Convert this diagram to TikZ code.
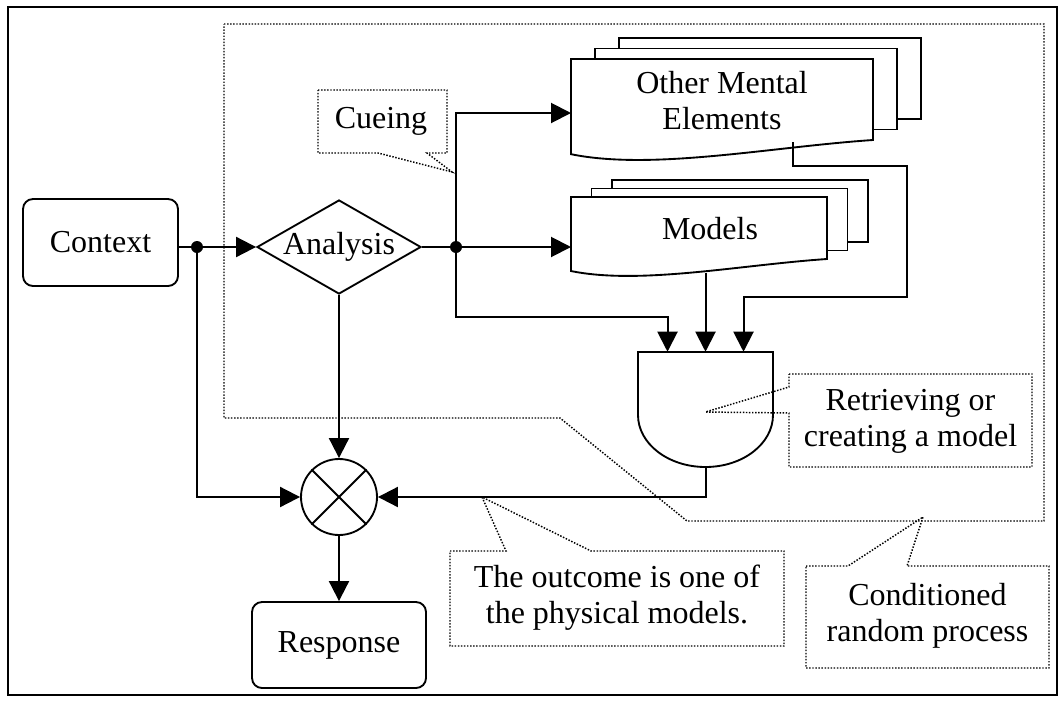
\documentclass[tikz,border=0pt]{standalone}
\usepackage{fontspec}
\setmainfont{Liberation Serif}
\usetikzlibrary{arrows.meta,shapes.geometric,calc}
\newcommand{\docstack}[6]{%
  % #1 x, #2 y (top-left of front), #3 width, #4 right height, #5 dx, #6 dy
  \draw[shapeline,fill=white] ({#1+2*#5},{#2-2*#6}) rectangle ({#1+2*#5+#3},{#2-2*#6+#4});
  \draw[shapeline,fill=white] ({#1+#5},{#2-#6}) rectangle ({#1+#5+#3},{#2-#6+#4});
  \draw[shapeline,fill=white] (#1,#2) -- ({#1+#3},#2) -- ({#1+#3},{#2+#4})
    .. controls ({#1+0.66*#3},{#2+#4+0.023*#3}) and ({#1+0.27*#3},{#2+#4+0.102*#3}) ..
    (#1,{#2+#4+0.047*#3}) -- cycle;
}
\begin{document}
\begin{tikzpicture}[x=0.75pt,y=-0.75pt,
  conn/.style={line width=1.5pt,-{Triangle[length=15pt,width=15pt]}},
  plain/.style={line width=1.5pt},
  shapeline/.style={line width=1.4pt},
  dotline/.style={line width=1.1pt,dash pattern=on 1.1pt off 1.2pt},
  txt/.style={font=\fontsize{24pt}{27pt}\selectfont,align=center,inner sep=0pt},
  rbox/.style={draw,line width=1.4pt,rounded corners=7.5pt,inner sep=0pt,
    font=\fontsize{24pt}{27pt}\selectfont},
  ]
\useasboundingbox (0,0) rectangle (1060,700);
\draw[line width=1.6pt] (8,7) rectangle (1057,695);

% conditioned random process region
\draw[dotline] (224,24) -- (1044,24) -- (1044,521) -- (687,521) -- (560,418) -- (224,418) -- cycle;

% document stacks
\docstack{571}{59}{302}{81}{24}{10.5}
\docstack{571}{197}{256}{62}{20.5}{8.5}
\node[txt] (ome) at (722,101) {Other Mental\\Elements};
\node[txt] (models) at (710,229) {Models};

% main nodes
\node[rbox, minimum width=116.25pt, minimum height=65.25pt] (context) at (100.5,242.5) {Context};
\node[draw, shape=diamond, shapeline, inner sep=0pt, minimum width=123pt, minimum height=70.5pt] (ana) at (339,247) {};
\node[txt] (anatxt) at (ana.center) {Analysis};
\node[draw, circle, shapeline, minimum size=57pt, inner sep=0pt] (mult) at (339,497) {};
\draw[shapeline] (mult.north west) -- (mult.south east) (mult.north east) -- (mult.south west);
\node[rbox, minimum width=130.5pt, minimum height=64.5pt] (resp) at (339,645) {Response};

% retrieving shape
\draw[shapeline, fill=white] (638,352) -- (773,352) -- (773,415)
  .. controls (773,443.7) and (742.8,467) .. (705.5,467)
  .. controls (668.2,467) and (638,443.7) .. (638,415) -- cycle;
\node[minimum width=101.25pt, minimum height=86.25pt, inner sep=0pt] (retr) at (705.5,409.5) {};

% coordinates
\coordinate (j1) at (197,247);
\coordinate (j2) at (456,247);
\coordinate (modin) at (571,247);
\coordinate (omein) at (571,113);
\coordinate (modout) at (705.5,273);
\coordinate (omeout) at (793,142);

% connectors
\draw[plain] (context.east |- j1) -- (j1);
\draw[conn] (j1) -- (ana.west);
\draw[conn] (j1) |- (mult.west);
\draw[plain] (ana.east) -- (j2);
\draw[conn] (j2) -- (modin);
\draw[conn] (j2) |- (omein);
\draw[conn] (j2) -- ++(0,70) -| ([xshift=-28.5pt]retr.north);
\draw[conn] (modout) -- (retr.north);
\draw[conn] (omeout) -- ++(0,24) -- ++(114,0) -- ++(0,131) -| ([xshift=28.5pt]retr.north);
\draw[conn] (ana.south) -- (mult.north);
\draw[conn] (retr.south) |- (mult.east);
\draw[conn] (mult.south) -- (resp.north);
\fill (j1) circle[radius=4.5pt];
\fill (j2) circle[radius=4.5pt];

% callouts
\coordinate (cuetip) at (452,172);
\coordinate (retrtip) at (705.5,412);
\coordinate (outtip) at (482,497);
\coordinate (condtip) at (923,517);
\draw[dotline] (318,90) -- (447,90) -- (447,153) -- (427,153) -- (cuetip) -- (378,153) -- (318,153) -- cycle;
\draw[dotline] (789,374) -- (1032,374) -- (1032,467) -- (789,467) -- (789,413) -- (retrtip) -- (789,387) -- cycle;
\draw[dotline] (450,551) -- (506,551) -- (outtip) -- (591,551) -- (784,551) -- (784,646) -- (450,646) -- cycle;
\draw[dotline] (806,566) -- (848,566) -- (condtip) -- (907,566) -- (1049,566) -- (1049,668) -- (806,668) -- cycle;
\node[txt] (cue) at (381,121) {Cueing};
\node[txt] (retrtxt) at (910.5,421) {Retrieving or\\creating a model};
\node[txt] (outtxt) at (617,598) {The outcome is one of\\the physical models.};
\node[txt] (condtxt) at (927.5,616) {Conditioned\\random process};
\end{tikzpicture}
\end{document}
